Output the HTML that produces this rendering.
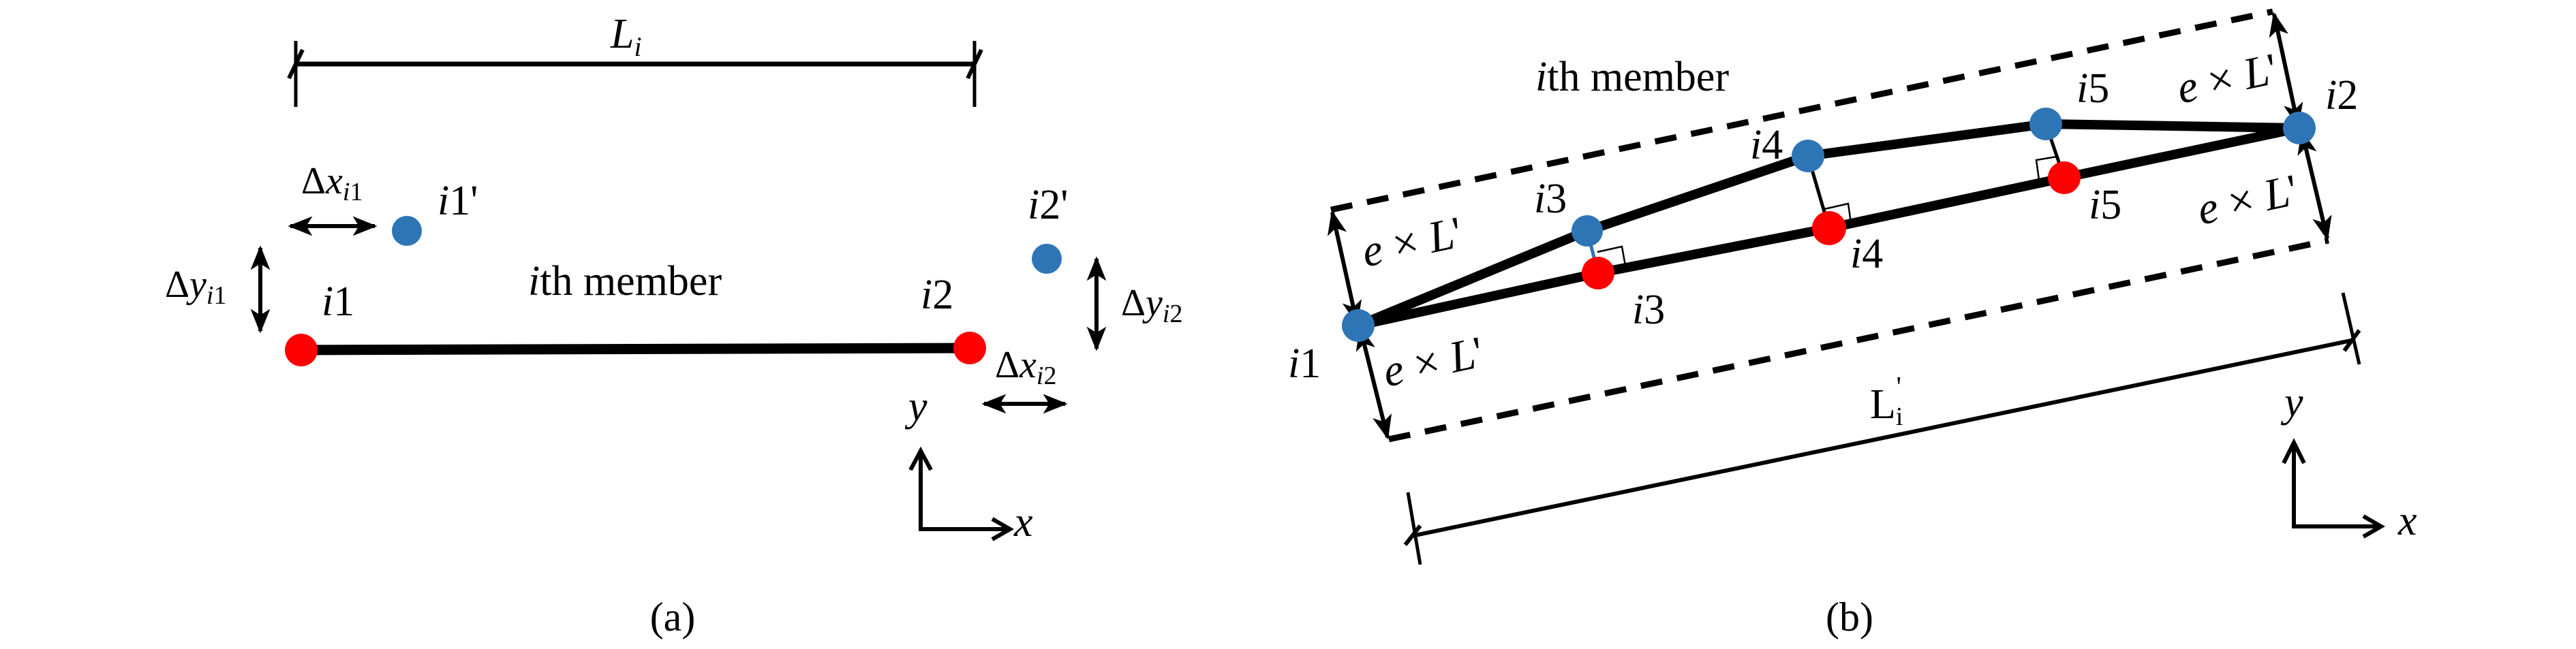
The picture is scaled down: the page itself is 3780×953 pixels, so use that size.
<!DOCTYPE html>
<html><head><meta charset="utf-8"><style>
html,body{margin:0;padding:0;background:#fff;}
svg{display:block;font-family:"Liberation Serif","Times New Roman","DejaVu Serif",serif;}
svg text{font-family:"Liberation Serif","Times New Roman","DejaVu Serif",serif;fill:#000;}
.it{font-style:italic;}
</style></head><body>
<svg width="3780" height="953" viewBox="0 0 3780 953" xmlns="http://www.w3.org/2000/svg" font-family="Liberation Serif, DejaVu Serif, serif">
<defs>
<marker id="ah" viewBox="0 0 10 10" refX="9" refY="5" markerWidth="7" markerHeight="6" orient="auto-start-reverse" markerUnits="strokeWidth">
<path d="M0,1 L10,5 L0,9 L2.5,5 z" fill="#000"/>
</marker>
</defs>

<!-- ========== (a) ========== -->
<line x1="434" y1="94" x2="1430" y2="94" stroke="#000" stroke-width="7"/>
<line x1="434" y1="60" x2="434" y2="157" stroke="#000" stroke-width="5"/>
<line x1="1430" y1="60" x2="1430" y2="157" stroke="#000" stroke-width="5"/>
<line x1="424" y1="115" x2="444" y2="73" stroke="#000" stroke-width="6"/>
<line x1="1420" y1="115" x2="1440" y2="73" stroke="#000" stroke-width="6"/>
<text x="896" y="70" font-size="62" class="it">L<tspan font-size="40" dy="12">i</tspan></text>

<line x1="442" y1="514" x2="1423" y2="511" stroke="#000" stroke-width="15"/>
<circle cx="442" cy="514" r="24" fill="#f00"/>
<circle cx="1423" cy="511" r="24" fill="#f00"/>
<circle cx="597" cy="339" r="22" fill="#2e75b6"/>
<circle cx="1536" cy="380" r="22" fill="#2e75b6"/>

<line x1="426" y1="332" x2="550" y2="332" stroke="#000" stroke-width="6" marker-start="url(#ah)" marker-end="url(#ah)"/>
<text x="442" y="284" font-size="56">Δ<tspan class="it">x</tspan><tspan font-size="38" dy="10" class="it">i</tspan><tspan font-size="38">1</tspan></text>
<text x="642" y="315" font-size="62"><tspan class="it">i</tspan>1'</text>

<line x1="382" y1="364" x2="382" y2="486" stroke="#000" stroke-width="6" marker-start="url(#ah)" marker-end="url(#ah)"/>
<text x="242" y="436" font-size="56">Δ<tspan class="it">y</tspan><tspan font-size="38" dy="10" class="it">i</tspan><tspan font-size="38">1</tspan></text>
<text x="472" y="463" font-size="62"><tspan class="it">i</tspan>1</text>
<text x="775" y="433" font-size="62"><tspan class="it">i</tspan>th member</text>
<text x="1351" y="453" font-size="62"><tspan class="it">i</tspan>2</text>
<text x="1508" y="321" font-size="62"><tspan class="it">i</tspan>2'</text>

<line x1="1609" y1="380" x2="1609" y2="512" stroke="#000" stroke-width="6" marker-start="url(#ah)" marker-end="url(#ah)"/>
<text x="1645" y="463" font-size="56">Δ<tspan class="it">y</tspan><tspan font-size="38" dy="10" class="it">i</tspan><tspan font-size="38">2</tspan></text>
<text x="1460" y="554" font-size="56">Δ<tspan class="it">x</tspan><tspan font-size="38" dy="10" class="it">i</tspan><tspan font-size="38">2</tspan></text>
<line x1="1444" y1="593" x2="1563" y2="593" stroke="#000" stroke-width="6" marker-start="url(#ah)" marker-end="url(#ah)"/>

<text x="1333" y="617" font-size="62" class="it">y</text>
<polyline points="1351,662 1351,777 1480,777" fill="none" stroke="#000" stroke-width="6"/>
<polyline points="1336,690 1351,662 1366,690" fill="none" stroke="#000" stroke-width="6"/>
<polyline points="1456,762 1482,777 1456,792" fill="none" stroke="#000" stroke-width="6"/>
<text x="1488" y="787" font-size="62" class="it">x</text>
<text x="987" y="926" font-size="60" text-anchor="middle">(a)</text>

<!-- ========== (b) ========== -->
<line x1="1953" y1="308" x2="3335" y2="17" stroke="#000" stroke-width="9" stroke-dasharray="32,22"/>
<line x1="2038" y1="645" x2="3417" y2="353" stroke="#000" stroke-width="9" stroke-dasharray="32,22"/>
<line x1="1955" y1="312" x2="1991" y2="474" stroke="#000" stroke-width="6" marker-start="url(#ah)" marker-end="url(#ah)"/>
<line x1="1996" y1="482" x2="2036" y2="642" stroke="#000" stroke-width="6" marker-start="url(#ah)" marker-end="url(#ah)"/>
<line x1="3337" y1="21" x2="3372" y2="184" stroke="#000" stroke-width="6" marker-start="url(#ah)" marker-end="url(#ah)"/>
<line x1="3378" y1="194" x2="3415" y2="350" stroke="#000" stroke-width="6" marker-start="url(#ah)" marker-end="url(#ah)"/>

<polyline points="1993,478 2329,339 2653,229 3002,182 3374,188" fill="none" stroke="#000" stroke-width="14" stroke-linejoin="round"/>
<polyline points="1993,478 2345,401 2684,335 3029,261 3374,188" fill="none" stroke="#000" stroke-width="14" stroke-linejoin="round"/>
<line x1="2329" y1="339" x2="2345" y2="401" stroke="#2e75b6" stroke-width="5"/>
<line x1="2653" y1="229" x2="2684" y2="335" stroke="#000" stroke-width="5"/>
<line x1="3002" y1="182" x2="3029" y2="261" stroke="#000" stroke-width="5"/>
<polyline points="2344,370 2380,362 2385,390" fill="none" stroke="#000" stroke-width="2.5"/>
<polyline points="2677,307 2712,299 2716,327" fill="none" stroke="#000" stroke-width="2.5"/>
<polyline points="3018,230 2988,235 2992,264" fill="none" stroke="#000" stroke-width="2.5"/>

<circle cx="1993" cy="478" r="24" fill="#2e75b6"/>
<circle cx="2329" cy="339" r="23" fill="#2e75b6"/>
<circle cx="2653" cy="229" r="24" fill="#2e75b6"/>
<circle cx="3002" cy="182" r="24" fill="#2e75b6"/>
<circle cx="3374" cy="188" r="24" fill="#2e75b6"/>
<circle cx="2345" cy="401" r="24" fill="#f00"/>
<circle cx="2684" cy="335" r="25" fill="#f00"/>
<circle cx="3029" cy="261" r="24" fill="#f00"/>

<text x="2253" y="133" font-size="62"><tspan class="it">i</tspan>th member</text>
<text x="2251" y="312" font-size="62"><tspan class="it">i</tspan>3</text>
<text x="2568" y="233" font-size="62"><tspan class="it">i</tspan>4</text>
<text x="3047" y="150" font-size="62"><tspan class="it">i</tspan>5</text>
<text x="3412" y="160" font-size="62"><tspan class="it">i</tspan>2</text>
<text x="1890" y="554" font-size="62"><tspan class="it">i</tspan>1</text>
<text x="2395" y="475" font-size="62"><tspan class="it">i</tspan>3</text>
<text x="2715" y="393" font-size="62"><tspan class="it">i</tspan>4</text>
<text x="3065" y="321" font-size="62"><tspan class="it">i</tspan>5</text>

<text font-size="66" transform="translate(2004,392) rotate(-12)"><tspan class="it">e</tspan> × <tspan class="it">L</tspan>'</text>
<text font-size="66" transform="translate(2035,568) rotate(-12)"><tspan class="it">e</tspan> × <tspan class="it">L</tspan>'</text>
<text font-size="66" transform="translate(3200,152) rotate(-12)"><tspan class="it">e</tspan> × <tspan class="it">L</tspan>'</text>
<text font-size="66" transform="translate(3230,330) rotate(-12)"><tspan class="it">e</tspan> × <tspan class="it">L</tspan>'</text>

<line x1="2072" y1="787" x2="3450" y2="500" stroke="#000" stroke-width="6"/>
<line x1="2066" y1="723" x2="2084" y2="829" stroke="#000" stroke-width="5"/>
<line x1="3438" y1="430" x2="3462" y2="535" stroke="#000" stroke-width="5"/>
<line x1="2062" y1="800" x2="2084" y2="772" stroke="#000" stroke-width="6"/>
<line x1="3440" y1="515" x2="3462" y2="485" stroke="#000" stroke-width="6"/>
<text x="2744" y="614" font-size="62">L<tspan font-size="38" dy="10">i</tspan><tspan font-size="42" dx="-10" dy="-42">'</tspan></text>

<text x="3352" y="611" font-size="62" class="it">y</text>
<polyline points="3366,650 3366,773 3492,773" fill="none" stroke="#000" stroke-width="6"/>
<polyline points="3351,680 3366,650 3381,680" fill="none" stroke="#000" stroke-width="6"/>
<polyline points="3468,758 3494,773 3468,788" fill="none" stroke="#000" stroke-width="6"/>
<text x="3519" y="785" font-size="62" class="it">x</text>
<text x="2714" y="926" font-size="60" text-anchor="middle">(b)</text>
</svg>
</body></html>
